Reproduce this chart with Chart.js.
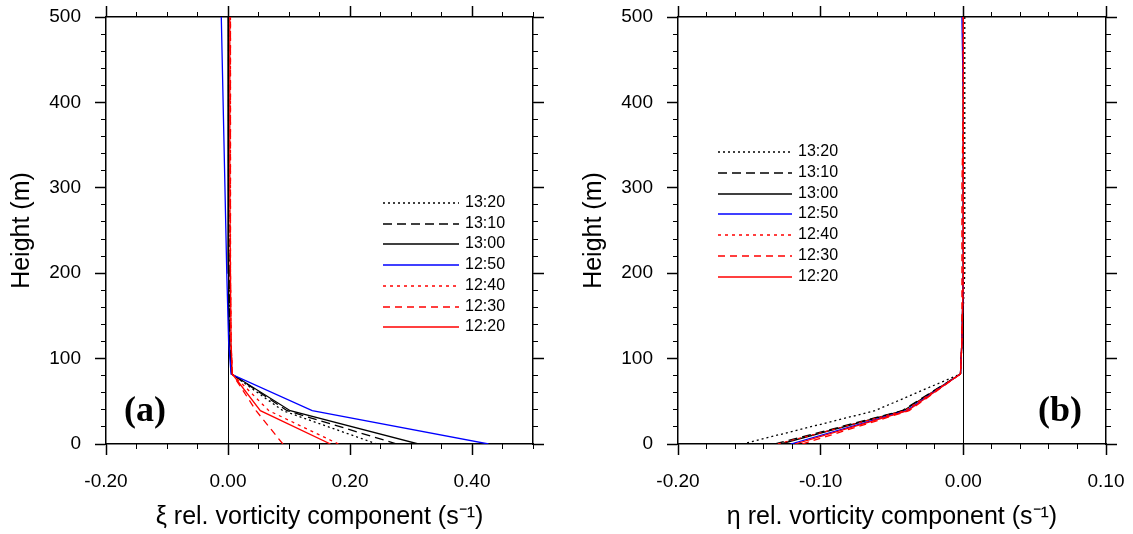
<!DOCTYPE html>
<html>
<head>
<meta charset="utf-8">
<script src="https://cdn.jsdelivr.net/npm/chart.js@4.4.1/dist/chart.umd.min.js"></script>
<style>
  html, body { margin: 0; padding: 0; background: #fff; }
  #wrap { position: relative; width: 1133px; height: 534px; }
  .panel { position: absolute; top: 0; height: 534px; }
  #panelA { left: 0; width: 566px; }
  #panelB { left: 566px; width: 567px; }
</style>
</head>
<body>
<div id="wrap">
  <div class="panel" id="panelA"><canvas id="chartA" width="566" height="534"></canvas></div>
  <div class="panel" id="panelB"><canvas id="chartB" width="567" height="534"></canvas></div>
</div>
<script>
// heights (m) of the profile levels, shared by every series
const heights = [0, 39, 82, 120, 200, 300, 400, 500];
const times = ["12:20", "12:30", "12:40", "12:50", "13:00", "13:10", "13:20"];

// (a) xi component, s^-1
const xi1220 = [0.168, 0.053, 0.007, 0.005, 0.004, 0.003, 0.003, 0.003];
const xi1230 = [0.090, 0.046, 0.007, 0.005, 0.004, 0.004, 0.004, 0.004];
const xi1240 = [0.181, 0.067, 0.007, 0.005, 0.004, 0.004, 0.004, 0.004];
const xi1250 = [0.427, 0.138, 0.005, 0.001, -0.002, -0.005, -0.008, -0.011];
const xi1300 = [0.312, 0.102, 0.006, 0.002, 0.001, 0.000, 0.000, 0.000];
const xi1310 = [0.277, 0.097, 0.006, 0.003, 0.002, 0.001, 0.001, 0.001];
const xi1320 = [0.244, 0.090, 0.006, 0.003, 0.002, 0.001, 0.001, 0.001];

// (b) eta component, s^-1
const eta1220 = [-0.118, -0.039, -0.002, -0.001, 0.000, 0.000, 0.000, 0.000];
const eta1230 = [-0.113, -0.038, -0.002, -0.001, -0.001, -0.001, 0.000, 0.000];
const eta1240 = [-0.130, -0.041, -0.002, -0.001, 0.000, 0.000, 0.000, 0.000];
const eta1250 = [-0.121, -0.040, -0.002, -0.001, 0.000, 0.000, 0.000, -0.001];
const eta1300 = [-0.128, -0.042, -0.002, -0.001, 0.000, 0.000, 0.000, 0.000];
const eta1310 = [-0.132, -0.043, -0.002, -0.001, 0.000, 0.000, 0.000, 0.000];
const eta1320 = [-0.155, -0.062, -0.002, -0.001, 0.001, 0.001, 0.001, 0.001];

// line look per time, same order as times
const lineStyles = [
    { color: "#ff0000", dash: [] },
    { color: "#ff0000", dash: [7, 5] },
    { color: "#ff0000", dash: [3, 4] },
    { color: "#0000ff", dash: [] },
    { color: "#000000", dash: [] },
    { color: "#000000", dash: [9, 5] },
    { color: "#000000", dash: [2, 3] }
];

const FONT = '"Liberation Sans", Arial, Helvetica, sans-serif';
Chart.defaults.font.family = FONT;
Chart.defaults.color = "#000";

function fmt2(v) {
    if (Math.abs(v) < 1e-9) return "0.00";
    return v.toFixed(2);
}

// legend drawn inside the plot, plus the (a)/(b) tag
const insideLegend = {
    id: "insideLegend",
    afterDraw(chart, args, opts) {
        const ctx = chart.ctx;
        const ds = chart.data.datasets;
        ctx.save();
        ctx.font = "16px " + FONT;
        ctx.textBaseline = "middle";
        ctx.textAlign = "left";
        ctx.fillStyle = "#000";
        for (let i = ds.length - 1, row = 0; i >= 0; i--, row++) {
            const d = ds[i];
            const y = Math.round(opts.top + row * opts.rowHeight);
            ctx.strokeStyle = d.borderColor;
            ctx.lineWidth = 1.3;
            ctx.setLineDash(d.borderDash || []);
            ctx.beginPath();
            ctx.moveTo(opts.left, y);
            ctx.lineTo(opts.left + opts.lineLength, y);
            ctx.stroke();
            ctx.setLineDash([]);
            ctx.fillText(d.label, opts.left + opts.lineLength + opts.gap, y);
        }
        ctx.font = 'bold 36px "Liberation Serif", "Times New Roman", serif';
        ctx.textAlign = "center";
        ctx.fillText(opts.tag, opts.tagX, opts.tagY);
        ctx.restore();
    }
};

function makeDatasets(seriesList) {
    return seriesList.map((vals, i) => ({
        label: times[i],
        data: vals.map((v, k) => ({ x: v, y: heights[k] })),
        showLine: true,
        borderColor: lineStyles[i].color,
        borderDash: lineStyles[i].dash,
        borderWidth: 1.3,
        pointRadius: 0,
        fill: false
    }));
}

function noPad(s) {
    s.paddingTop = 0;
    s.paddingBottom = 0;
    s.paddingLeft = 0;
    s.paddingRight = 0;
}

function edgeAxis(position, min, max, step, len, width, weight) {
    const horizontal = position === "top" || position === "bottom";
    return {
        type: "linear",
        position: position,
        weight: weight,
        min: min,
        max: max,
        afterFit: s => { if (horizontal) s.height = 0; else s.width = 0; noPad(s); },
        border: { display: false },
        grid: { drawOnChartArea: false, drawTicks: true, tickLength: len, tickColor: "#000", tickWidth: width },
        ticks: { display: false, stepSize: step, includeBounds: false, autoSkip: false }
    };
}

function makePanel(canvasId, seriesList, p) {
    const titleFont = { size: 25, family: FONT };
    const tickFont = { size: 19, family: FONT };
    return new Chart(document.getElementById(canvasId), {
        type: "scatter",
        data: { datasets: makeDatasets(seriesList) },
        options: {
            responsive: false,
            animation: false,
            layout: { padding: { left: 0, top: 17, right: p.rightPad, bottom: 0 } },
            plugins: {
                legend: { display: false },
                tooltip: { enabled: false },
                insideLegend: p.legend
            },
            scales: {
                x: {
                    type: "linear",
                    position: "bottom",
                    min: p.xMin,
                    max: p.xMax,
                    afterFit: s => { s.height = 90; noPad(s); },
                    border: { display: true, color: "#000", width: 1.5 },
                    grid: {
                        drawOnChartArea: true,
                        drawTicks: true,
                        tickLength: 11,
                        tickColor: "#000",
                        tickWidth: 1.5,
                        lineWidth: 1,
                        color: c => (c.tick && Math.abs(c.tick.value) < 1e-9) ? "#000" : "rgba(0,0,0,0)"
                    },
                    ticks: {
                        stepSize: p.xMajor,
                        includeBounds: false,
                        autoSkip: false,
                        maxRotation: 0,
                        padding: 15,
                        font: tickFont,
                        callback: v => fmt2(v)
                    },
                    title: { display: true, text: p.xTitle, font: titleFont, padding: { top: 0, bottom: 2 } }
                },
                xMinor: edgeAxis("bottom", p.xMin, p.xMax, p.xMinor, 5, 1, -1),
                xTop: edgeAxis("top", p.xMin, p.xMax, p.xMajor, 11, 1.5, 0),
                xTopMinor: edgeAxis("top", p.xMin, p.xMax, p.xMinor, 5, 1, -1),
                y: {
                    type: "linear",
                    position: "left",
                    min: 0,
                    max: 500,
                    afterFit: s => { s.width = p.yAxisWidth; noPad(s); },
                    border: { display: true, color: "#000", width: 1.5 },
                    grid: { drawOnChartArea: false, drawTicks: true, tickLength: 11, tickColor: "#000", tickWidth: 1.5 },
                    ticks: { stepSize: 100, autoSkip: false, padding: 14, font: tickFont },
                    title: { display: true, text: "Height (m)", font: titleFont, padding: { top: p.yTitlePad, bottom: 0 } }
                },
                yMinor: edgeAxis("left", 0, 500, 20, 5, 1, -1),
                yRight: Object.assign(edgeAxis("right", 0, 500, 100, 11, 1.5, 0),
                    { border: { display: true, color: "#000", width: 1.5 } }),
                yRightMinor: edgeAxis("right", 0, 500, 20, 5, 1, -1),
                xTopBorder: Object.assign(edgeAxis("top", p.xMin, p.xMax, p.xMajor, 0, 0, 1),
                    { border: { display: true, color: "#000", width: 1.5 } })
            }
        },
        plugins: [insideLegend]
    });
}

makePanel("chartA", [xi1220, xi1230, xi1240, xi1250, xi1300, xi1310, xi1320], {
    xMin: -0.2, xMax: 0.5, xMajor: 0.2, xMinor: 0.05,
    xTitle: "\u03BE rel. vorticity component (s\u207B\u00B9)",
    rightPad: 33, yAxisWidth: 106, yTitlePad: 7,
    legend: { left: 383, top: 203, rowHeight: 20.7, lineLength: 76, gap: 6, tag: "(a)", tagX: 145, tagY: 412 }
});

makePanel("chartB", [eta1220, eta1230, eta1240, eta1250, eta1300, eta1310, eta1320], {
    xMin: -0.2, xMax: 0.1, xMajor: 0.1, xMinor: 0.02,
    xTitle: "\u03B7 rel. vorticity component (s\u207B\u00B9)",
    rightPad: 27, yAxisWidth: 112, yTitlePad: 13,
    legend: { left: 152, top: 152, rowHeight: 20.8, lineLength: 74, gap: 6, tag: "(b)", tagX: 494, tagY: 412 }
});
</script>
</body>
</html>
